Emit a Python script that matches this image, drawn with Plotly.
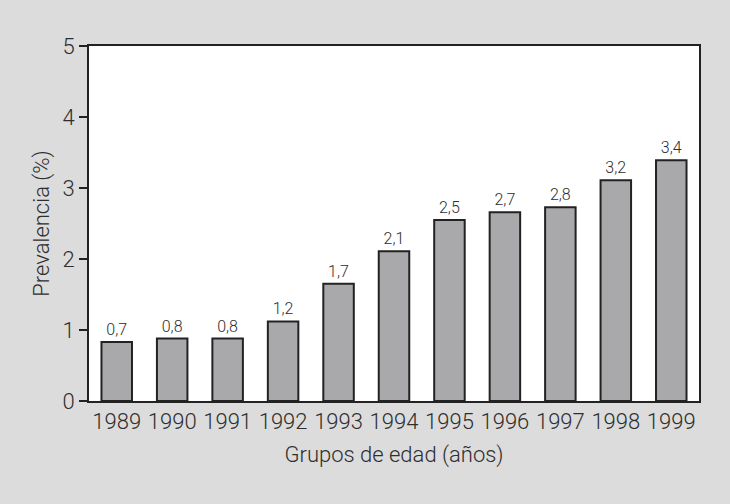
import plotly.graph_objects as go

years = ["1989", "1990", "1991", "1992", "1993", "1994", "1995", "1996", "1997", "1998", "1999"]
bar_values = [0.83, 0.88, 0.88, 1.12, 1.65, 2.11, 2.55, 2.66, 2.73, 3.11, 3.39]
value_labels = ["0,7", "0,8", "0,8", "1,2", "1,7", "2,1", "2,5", "2,7", "2,8", "3,2", "3,4"]
y_ticks = [0, 1, 2, 3, 4, 5]

FONT = "Roboto, Liberation Sans, sans-serif"
TXT = "#2e2e2e"

fig = go.Figure(
    go.Bar(
        x=years,
        y=bar_values,
        text=value_labels,
        textposition="outside",
        textfont=dict(family=FONT, size=16, color=TXT, weight=300),
        cliponaxis=False,
        marker=dict(color="#a9a9ac", line=dict(color="#222222", width=2)),
        width=0.55,
    )
)

fig.update_layout(
    width=730,
    height=504,
    margin=dict(l=89, r=31, t=46, b=103),
    paper_bgcolor="#dcdcdc",
    plot_bgcolor="#ffffff",
    showlegend=False,
    font=dict(family=FONT, color=TXT, weight=300),
)

fig.update_yaxes(
    range=[0, 5],
    tickvals=y_ticks,
    ticktext=[str(v) for v in y_ticks],
    ticks="outside",
    ticklen=8,
    tickwidth=2,
    tickcolor="#222222",
    showline=True,
    linecolor="#222222",
    linewidth=2,
    mirror=True,
    showgrid=False,
    zeroline=False,
    tickfont=dict(family=FONT, size=22, color=TXT, weight=300),
    title=dict(text="Prevalencia (%)", font=dict(family=FONT, size=22, color=TXT, weight=300), standoff=7),
)

fig.update_xaxes(
    showline=True,
    linecolor="#222222",
    linewidth=2,
    mirror=True,
    ticks="",
    showgrid=False,
    tickfont=dict(family=FONT, size=22, color=TXT, weight=300),
    title=dict(text="Grupos de edad (años)", font=dict(family=FONT, size=22, color=TXT, weight=300), standoff=13),
)

fig.write_html(
    "out.html",
    config={"displayModeBar": False},
    post_script="document.body.style.margin='0';document.body.style.background='#dcdcdc';",
)
